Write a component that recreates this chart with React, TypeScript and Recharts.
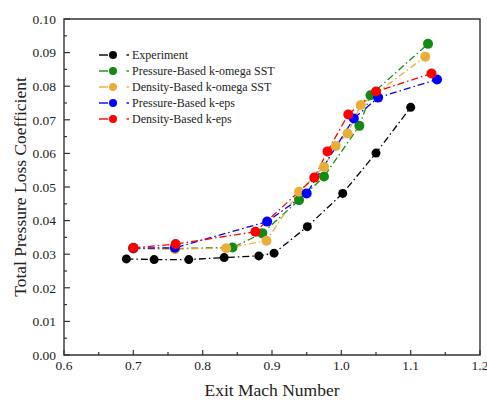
import React from 'react';
import {
  LineChart,
  Line,
  XAxis,
  YAxis,
  Label,
  Legend,
  ReferenceArea,
} from 'recharts';

// Exit Mach number / total pressure loss coefficient for each case
const expMach = [0.69, 0.73, 0.78, 0.831, 0.881, 0.903, 0.951, 1.002, 1.05, 1.1];
const expLoss = [0.0286, 0.0284, 0.0284, 0.029, 0.0295, 0.0303, 0.0382, 0.0481, 0.0601, 0.0737];

const pbSstMach = [0.7, 0.76, 0.843, 0.886, 0.939, 0.975, 1.026, 1.042, 1.125];
const pbSstLoss = [0.0318, 0.0317, 0.032, 0.0362, 0.0461, 0.0531, 0.0682, 0.0773, 0.0926];

const dbSstMach = [0.7, 0.76, 0.834, 0.892, 0.939, 0.975, 0.992, 1.009, 1.028, 1.121];
const dbSstLoss = [0.0316, 0.0315, 0.0318, 0.034, 0.0486, 0.056, 0.0622, 0.0659, 0.0744, 0.0888];

const pbKepsMach = [0.7, 0.76, 0.893, 0.95, 1.018, 1.053, 1.138];
const pbKepsLoss = [0.0318, 0.0319, 0.0397, 0.0481, 0.0704, 0.0766, 0.082];

const dbKepsMach = [0.7, 0.761, 0.876, 0.961, 0.98, 1.01, 1.05, 1.13];
const dbKepsLoss = [0.0319, 0.033, 0.0367, 0.0528, 0.0606, 0.0716, 0.0784, 0.0838];

const machTicks = [0.6, 0.65, 0.7, 0.75, 0.8, 0.85, 0.9, 0.95, 1.0, 1.05, 1.1, 1.15, 1.2];
const lossTicks = [
  0, 0.005, 0.01, 0.015, 0.02, 0.025, 0.03, 0.035, 0.04, 0.045, 0.05,
  0.055, 0.06, 0.065, 0.07, 0.075, 0.08, 0.085, 0.09, 0.095, 0.1,
];

const toPoints = (mach: number[], loss: number[]) =>
  mach.map((m, i) => ({ m, c: loss[i] }));

const series = [
  { name: 'Experiment', color: '#000000', r: 4.5, data: toPoints(expMach, expLoss) },
  { name: 'Pressure-Based k-omega SST', color: '#138a13', r: 5, data: toPoints(pbSstMach, pbSstLoss) },
  { name: 'Density-Based k-omega SST', color: '#e9ae3a', r: 5, data: toPoints(dbSstMach, dbSstLoss) },
  { name: 'Pressure-Based k-eps', color: '#0000ff', r: 5, data: toPoints(pbKepsMach, pbKepsLoss) },
  { name: 'Density-Based k-eps', color: '#ff0000', r: 5, data: toPoints(dbKepsMach, dbKepsLoss) },
];

const serif = '"Liberation Serif", "Times New Roman", serif';
const frameColor = '#333333';
const dash = '7 3 1.5 3';

const isMajor = (v: number, per: number) =>
  Math.abs(v * per - Math.round(v * per)) < 1e-6;

function MachTick({ x, y, payload }: any) {
  const major = isMajor(payload.value, 10);
  return (
    <g>
      <line x1={x} x2={x} y1={y} y2={y - (major ? 5 : 3)} stroke={frameColor} strokeWidth={1.2} />
      {major && (
        <text x={x} y={y + 15} textAnchor="middle" fontSize={13.5} fontFamily={serif} fill="#222">
          {payload.value.toFixed(1)}
        </text>
      )}
    </g>
  );
}

function LossTick({ x, y, payload }: any) {
  const major = isMajor(payload.value, 100);
  return (
    <g>
      <line x1={x} x2={x + (major ? 6 : 3)} y1={y} y2={y} stroke={frameColor} strokeWidth={1.2} />
      {major && (
        <text x={x - 8} y={y} dy="0.35em" textAnchor="end" fontSize={13.5} fontFamily={serif} fill="#222">
          {payload.value.toFixed(2)}
        </text>
      )}
    </g>
  );
}

// legend keeps the series order: "— ● ·" sample followed by the name
function LegendBox() {
  return (
    <div style={{ fontFamily: serif, fontSize: 12, color: '#222' }}>
      {series.map((s) => (
        <div key={s.name} style={{ display: 'flex', alignItems: 'center', height: 16 }}>
          <svg width={34} height={16} style={{ display: 'block' }}>
            <line x1={2} x2={11} y1={8} y2={8} stroke={s.color} strokeWidth={1.4} />
            <circle cx={16} cy={8} r={4} fill={s.color} />
            <line x1={29.5} x2={32} y1={8} y2={8} stroke={s.color} strokeWidth={1.4} />
          </svg>
          <span style={{ marginLeft: 1, whiteSpace: 'nowrap' }}>{s.name}</span>
        </div>
      ))}
    </div>
  );
}

export default function App() {
  return (
    <div style={{ position: 'absolute', left: 0, top: 0, background: '#fff' }}>
      <LineChart width={487} height={401} margin={{ top: 19, right: 7, bottom: 0, left: 4 }}>
        <XAxis
          dataKey="m"
          type="number"
          domain={[0.6, 1.2]}
          ticks={machTicks}
          interval={0}
          allowDataOverflow
          axisLine={false}
          tickLine={false}
          tickSize={0}
          tickMargin={0}
          height={46}
          tick={<MachTick />}
        >
          <Label
            value="Exit Mach Number"
            position="insideBottom"
            offset={5}
            fontSize={17.5}
            fontFamily={serif}
            fill="#222"
          />
        </XAxis>
        <YAxis
          dataKey="c"
          type="number"
          domain={[0, 0.1]}
          ticks={lossTicks}
          interval={0}
          allowDataOverflow
          axisLine={false}
          tickLine={false}
          tickSize={0}
          tickMargin={0}
          width={60}
          tick={<LossTick />}
        >
          <Label
            content={({ viewBox }: any) => {
              const cx = viewBox.x + 16;
              const cy = viewBox.y + viewBox.height / 2;
              return (
                <text
                  x={cx}
                  y={cy}
                  transform={`rotate(-90 ${cx} ${cy})`}
                  textAnchor="middle"
                  dy="0.35em"
                  fontSize={17.5}
                  fontFamily={serif}
                  fill="#222"
                >
                  Total Pressure Loss Coefficient
                </text>
              );
            }}
          />
        </YAxis>
        <Legend
          layout="vertical"
          align="center"
          verticalAlign="middle"
          content={<LegendBox />}
          wrapperStyle={{ left: 97, top: 47, width: 'auto', height: 'auto' }}
        />
        {series.map((s) => (
          <Line
            key={s.name}
            name={s.name}
            data={s.data}
            dataKey="c"
            type="linear"
            stroke={s.color}
            strokeWidth={1.3}
            strokeDasharray={dash}
            dot={{ r: s.r, fill: s.color, stroke: s.color, strokeWidth: 0 }}
            activeDot={false}
            isAnimationActive={false}
          />
        ))}
        <ReferenceArea
          x1={0.6}
          x2={1.2}
          y1={0}
          y2={0.1}
          fill="none"
          stroke={frameColor}
          strokeWidth={1.4}
          ifOverflow="visible"
        />
      </LineChart>
    </div>
  );
}
